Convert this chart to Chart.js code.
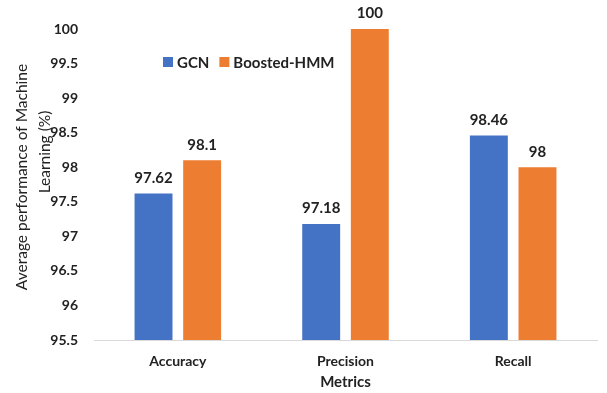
<!DOCTYPE html>
<html>
<head>
<meta charset="utf-8">
<script src="https://cdn.jsdelivr.net/npm/chart.js@4/dist/chart.umd.min.js"></script>
<style>
  html, body { margin: 0; padding: 0; background: #ffffff; }
  #wrap { width: 607px; height: 393px; position: relative; }
</style>
</head>
<body>
<div id="wrap"><canvas id="c" width="607" height="393"></canvas></div>
<script>
const categories = ["Accuracy", "Precision", "Recall"];
const gcnValues = [97.62, 97.18, 98.46];
const boostedValues = [98.1, 100, 98];
const seriesNames = ["GCN", "Boosted-HMM"];
const yTitleLines = ["Average performance of Machine", "Learning (%)"];
const xTitle = "Metrics";

const FONT = "Lato, 'Open Sans', 'Liberation Sans', sans-serif";
const BLUE = "#4472C4";
const ORANGE = "#ED7D31";

// Value labels above every bar
const valueLabels = {
  id: "valueLabels",
  afterDatasetsDraw(chart) {
    const ctx = chart.ctx;
    ctx.save();
    ctx.font = "bold 15px " + FONT;
    ctx.fillStyle = "#222222";
    ctx.textAlign = "center";
    ctx.textBaseline = "bottom";
    chart.data.datasets.forEach((ds, i) => {
      chart.getDatasetMeta(i).data.forEach((bar, j) => {
        ctx.fillText(String(ds.data[j]), bar.x, bar.y - 8);
      });
    });
    ctx.restore();
  }
};

// Legend inside the plot area, plus the two-line vertical axis title
const extras = {
  id: "extras",
  afterDraw(chart) {
    const ctx = chart.ctx;
    ctx.save();
    // legend
    ctx.font = "bold 15px " + FONT;
    ctx.textBaseline = "middle";
    ctx.textAlign = "left";
    let x = 163;
    const y = 62;
    chart.data.datasets.forEach((ds) => {
      ctx.fillStyle = ds.backgroundColor;
      ctx.fillRect(x, y - 5, 10, 10);
      ctx.fillStyle = "#222222";
      ctx.fillText(ds.label, x + 14, y + 1);
      x += 14 + ctx.measureText(ds.label).width + 10;
    });
    // y axis title
    ctx.font = "15.5px " + FONT;
    ctx.fillStyle = "#222222";
    ctx.textAlign = "center";
    ctx.translate(22, 177);
    ctx.rotate(-Math.PI / 2);
    ctx.fillText(yTitleLines[0], 0, 0);
    ctx.fillText(yTitleLines[1], 25, 23);
    ctx.restore();
  }
};

new Chart(document.getElementById("c"), {
  type: "bar",
  data: {
    labels: categories,
    datasets: [
      { label: seriesNames[0], data: gcnValues, backgroundColor: BLUE },
      { label: seriesNames[1], data: boostedValues, backgroundColor: ORANGE }
    ]
  },
  options: {
    responsive: false,
    animation: false,
    layout: { padding: { top: 29, right: 10, left: 0, bottom: 0 } },
    categoryPercentage: 0.58,
    barPercentage: 0.78,
    plugins: {
      legend: { display: false },
      tooltip: { enabled: false }
    },
    scales: {
      y: {
        min: 95.5,
        max: 100,
        grid: { display: false, drawTicks: false },
        border: { display: false },
        ticks: {
          stepSize: 0.5,
          padding: 16,
          color: "#222222",
          font: { family: FONT, size: 14, weight: "bold" },
          callback: (v) => String(Number(v.toFixed(1)))
        },
        afterFit(scale) { scale.width = 94; }
      },
      x: {
        grid: { display: false, drawTicks: false },
        border: { display: true, color: "#d9d9d9", width: 1 },
        ticks: {
          padding: 13,
          color: "#222222",
          font: { family: FONT, size: 14, weight: "bold" }
        },
        title: {
          display: true,
          text: xTitle,
          color: "#222222",
          padding: { top: 5, bottom: 2 },
          font: { family: FONT, size: 15, weight: "bold" }
        },
        afterFit(scale) { scale.height = 53; }
      }
    }
  },
  plugins: [valueLabels, extras]
});
</script>
</body>
</html>
